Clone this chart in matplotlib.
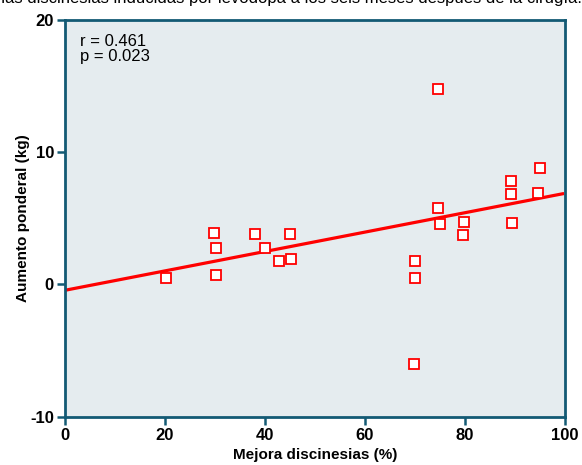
import matplotlib
matplotlib.use('Agg')
import matplotlib.pyplot as plt

plt.rcParams['font.family'] = ['Liberation Sans', 'DejaVu Sans']
plt.rcParams['axes.unicode_minus'] = False

# mejora discinesias (%) vs aumento ponderal (kg)
mejora = [20.2, 29.8, 30.1, 30.1, 37.9, 40.0, 42.7, 45.0, 45.2,
          70.0, 70.0, 69.8, 74.5, 74.5, 74.9, 79.8, 79.5,
          89.1, 89.1, 89.3, 94.5, 95.0]
aumento = [0.45, 3.85, 2.75, 0.7, 3.8, 2.75, 1.75, 3.8, 1.95,
           1.8, 0.5, -6.0, 14.8, 5.75, 4.55, 4.7, 3.7,
           7.8, 6.85, 4.65, 6.9, 8.8]

# recta de regresion
fit_x = [0, 99.5]
fit_y = [-0.45, 6.85]

xticks = [0, 20, 40, 60, 80, 100]
yticks = [-10, 0, 10, 20]

frame = '#135a74'

fig = plt.figure(figsize=(5.82, 4.65), dpi=100)
ax = fig.add_axes([65/582, 1-416.5/465, 500/582, 396.5/465])
ax.set_facecolor('#e5ecef')

ax.plot(fit_x, fit_y, color='red', lw=2.3, zorder=2)
ax.plot(mejora, aumento, 's', ms=7.3, mfc='white', mec='red', mew=1.3, zorder=3)

ax.set_xlim(0, 100)
ax.set_ylim(-10, 20)
ax.set_xticks(xticks)
ax.set_yticks(yticks)
for lab in ax.get_xticklabels() + ax.get_yticklabels():
    lab.set_fontweight('bold')
ax.tick_params(length=6, width=1.8, color=frame, labelsize=12, pad=2)
for s in ax.spines.values():
    s.set_color(frame)
    s.set_linewidth(2)

ax.set_xlabel('Mejora discinesias (%)', fontsize=11, fontweight='bold', labelpad=4)
ax.set_ylabel('Aumento ponderal (kg)', fontsize=11, fontweight='bold', labelpad=0)

ax.text(0.03, 0.965, 'r = 0.461\np = 0.023', transform=ax.transAxes,
        fontsize=12, va='top', ha='left', linespacing=1.05)

fig.text(1.0, 1.004, 'de las discinesias inducidas por levodopa a los seis meses después de la cirugía.',
         ha='right', va='center', fontsize=12)

fig.savefig('out.png', dpi=100)
